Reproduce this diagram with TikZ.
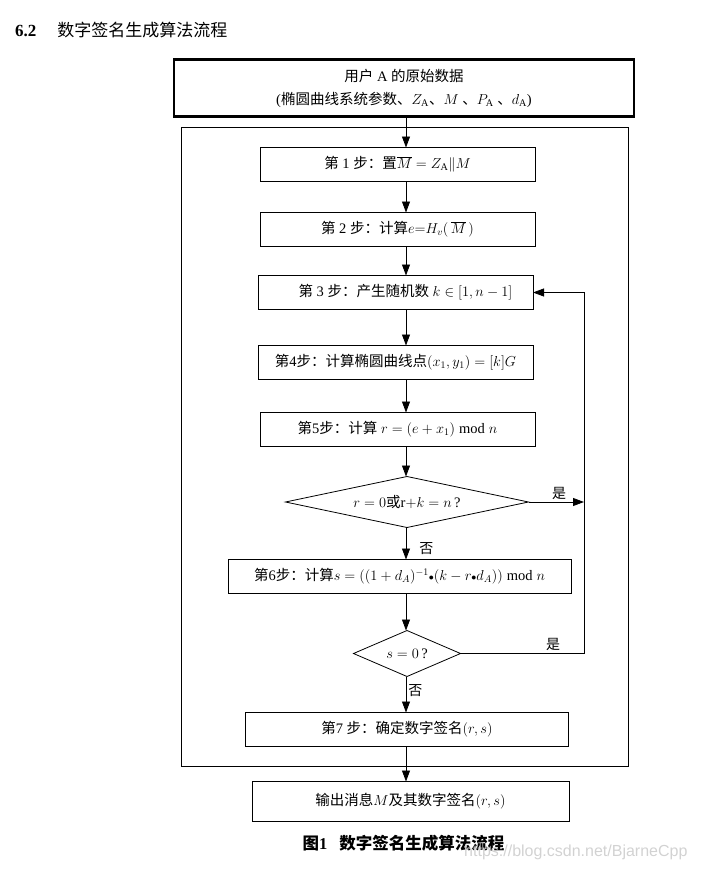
\documentclass[tikz,border=0pt]{standalone}
\usepackage{fontspec}
\setmainfont{Liberation Serif}
\newfontfamily\zhfont{Noto Sans CJK SC}
\newfontfamily\wmfont{Liberation Sans}
\newcommand{\zh}[1]{{\zhfont #1}}
\usepackage{tikz}
\usetikzlibrary{positioning, arrows.meta, shapes.geometric}

\begin{document}
\begin{tikzpicture}[>={Triangle[length=11pt,width=8pt]}, x=1pt, y=1pt,
		font=\fontsize{14.5}{18}\selectfont,
		box/.style={draw, line width=0.8pt, minimum width=275pt, minimum height=34pt, inner sep=0pt, outer sep=0pt},
		cond/.style={draw, diamond, line width=0.8pt, inner sep=0pt, outer sep=0pt},
		lbl/.style={font=\fontsize{14}{16}\selectfont\zhfont, inner sep=2pt}]
			\useasboundingbox (0,0) rectangle (701,-872);
			% Title
			\node[anchor=west, inner sep=0pt] (title) at (15,-30) {\fontsize{17}{20}\selectfont\textbf{6.2}\hspace{21pt}\zh{数字签名生成算法流程}};
			
			% Nodes
			\node[box, line width=2.2pt, minimum width=460pt, minimum height=57pt, align=center, font=\fontsize{14.5}{23}\selectfont] (input) at (404,-88) {\zh{用户} A \zh{的原始数据}\\(\zh{椭圆曲线系统参数、}$Z_{\mathrm{A}}$\zh{、}$M$ \zh{、}$P_{\mathrm{A}}$ \zh{、}$d_{\mathrm{A}}$)};
			\node[box, below=31pt of input, xshift=-6.5pt] (s1) {\zh{第} 1 \zh{步：置}$\overline{M}=Z_{\mathrm{A}}\|M$};
			\node[box, below=31pt of s1] (s2) {\zh{第} 2 \zh{步：计算}$e{=}H_{v}(\,\overline{M}\,)$};
			\node[box, below=29pt of s2, xshift=-2pt] (s3) {\hspace{20pt}\zh{第} 3 \zh{步：产生随机数} $k\in[1,n-1]$};
			\node[box, below=36pt of s3] (s4) {\zh{第}4\zh{步：计算椭圆曲线点}$(x_1,y_1)=[k]G$};
			\node[box, below=33pt of s4, xshift=2pt] (s5) {\zh{第}5\zh{步：计算} $r=(e+x_1)\bmod n$};
			\node[cond, below=30pt of s5, xshift=9.5pt, aspect=4.8, minimum width=243pt, minimum height=51pt] (d1) {$r=0$\zh{或}r$+k=n$\,?};
			\node[box, below=32pt of d1, xshift=-7.5pt, minimum width=343pt] (s6) {\zh{第}6\zh{步：计算}$s=((1+d_A)^{-1}{\scriptstyle\bullet}(k-r{\scriptstyle\bullet}d_A))\bmod n$};
			\node[cond, below=37pt of s6, xshift=7.5pt, aspect=2.3, minimum width=107pt, minimum height=46pt] (d2) {$s=0$\,?};
			\node[box, below=36pt of d2, minimum width=323pt] (s7) {\zh{第}7 \zh{步：确定数字签名}$(r,s)$};
			\node[box, below=35pt of s7, xshift=3.5pt, minimum width=317pt, minimum height=40pt] (out) {\zh{输出消息}$M$\zh{及其数字签名}$(r,s)$};
			
			% Frame round the steps
			\draw[line width=0.8pt] (181,-127) rectangle (628,-766);
			\coordinate (col) at (406,0);
			\coordinate (loop) at (584,0);
			
			% Arrows
			\draw[->, line width=0.8pt] (input.south -| col) -- (s1.north -| col);
			\draw[->, line width=0.8pt] (s1.south -| col) -- (s2.north -| col);
			\draw[->, line width=0.8pt] (s2.south -| col) -- (s3.north -| col);
			\draw[->, line width=0.8pt] (s3.south -| col) -- (s4.north -| col);
			\draw[->, line width=0.8pt] (s4.south -| col) -- (s5.north -| col);
			\draw[->, line width=0.8pt] (s5.south -| col) -- (d1.north -| col);
			\draw[->, line width=0.8pt] (d1.south -| col) -- node[lbl, pos=0.65, right=11pt] {否} (s6.north -| col);
			\draw[->, line width=0.8pt] (s6.south -| col) -- (d2.north -| col);
			\draw[->, line width=0.8pt] (d2.south -| col) -- node[lbl, pos=0.4, right] {否} (s7.north -| col);
			\draw[->, line width=0.8pt] (s7.south -| col) -- (out.north -| col);
			
			% Back to step 3
			\draw[->, line width=0.8pt] (d1.east) -- node[lbl, pos=0.55, above] {是} (d1.east -| loop);
			\draw[->, line width=0.8pt] (d2.east) -- node[lbl, pos=0.75, above] {是} (d2.east -| loop) -- (s3.east -| loop) -- (s3.east);
			
			% Caption
			\node (caption) at (403.5,-843) {\fontsize{16.5}{20}\selectfont\textbf{\zh{图}1}\hspace{12pt}{\zhfont\bfseries 数字签名生成算法流程}};
			\node[anchor=east, text=gray!35] (mark) at (691,-852) {\wmfont\fontsize{16}{18}\selectfont https://blog.csdn.net/BjarneCpp};
		\end{tikzpicture}
\end{document}
